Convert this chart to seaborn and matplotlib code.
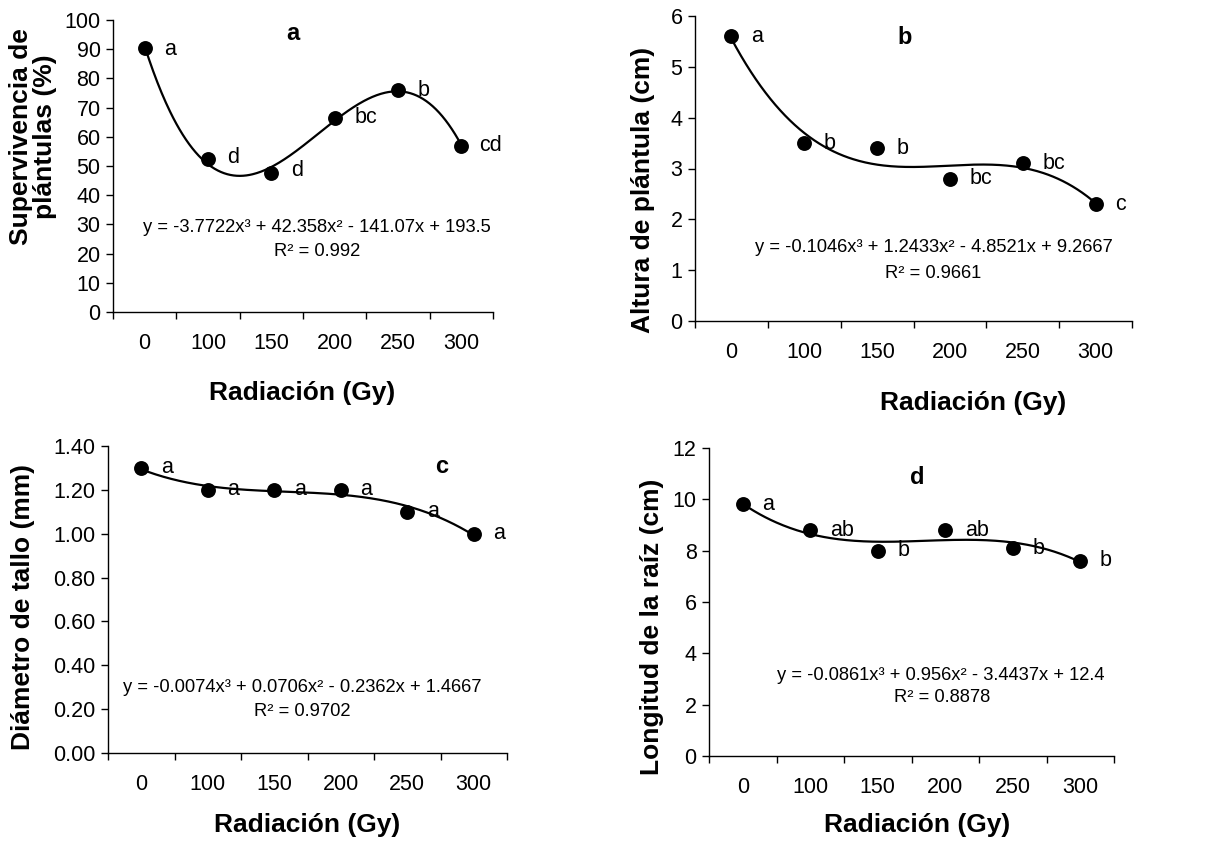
import numpy as np
import pandas as pd
import matplotlib
matplotlib.use("Agg")
import matplotlib.pyplot as plt
import seaborn as sns

# Radiation doses (categories on the x axis)
doses = ["0", "100", "150", "200", "250", "300"]

# Measured means per dose
survival = [90.5, 52.5, 47.5, 66.5, 76.0, 57.0]          # %
height = [5.6, 3.5, 3.4, 2.8, 3.1, 2.3]                   # cm
stem_diam = [1.30, 1.20, 1.20, 1.20, 1.10, 1.00]          # mm
root_len = [9.8, 8.8, 8.0, 8.8, 8.1, 7.6]                 # cm

# Mean-separation letters
letters_a = ["a", "d", "d", "bc", "b", "cd"]
letters_b = ["a", "b", "b", "bc", "bc", "c"]
letters_c = ["a", "a", "a", "a", "a", "a"]
letters_d = ["a", "ab", "b", "ab", "b", "b"]

# Cubic trend coefficients (x = category index 1..6) and R²
coef_a = [-3.7722, 42.358, -141.07, 193.5]
coef_b = [-0.1046, 1.2433, -4.8521, 9.2667]
coef_c = [-0.0074, 0.0706, -0.2362, 1.4667]
coef_d = [-0.0861, 0.956, -3.4437, 12.4]
r2_a, r2_b, r2_c, r2_d = "0.992", "0.9661", "0.9702", "0.8878"

sns.set_theme(style="white")
plt.rcParams["font.family"] = ["Liberation Sans", "DejaVu Sans"]
plt.rcParams.update({
    "text.color": "black",
    "axes.labelcolor": "black",
    "xtick.color": "black",
    "ytick.color": "black",
})

W, H = 1219, 842
fig = plt.figure(figsize=(W / 100, H / 100), dpi=100)

TICK_FS = 15.5
LETTER_FS = 15.5
EQ_FS = 13.2
LABEL_FS = 19
TAG_FS = 17


def rect(l, t, r, b):
    return [l / W, 1 - b / H, (r - l) / W, (b - t) / H]


def fx(px):
    return px / W


def fy(py):
    return 1 - py / H


def equation(coefs):
    a, b, c, d = coefs

    def term(v, suffix, first=False):
        if first:
            return f"{v:g}{suffix}"
        sign = "+" if v >= 0 else "-"
        return f" {sign} {abs(v):g}{suffix}"
    return "y = " + term(a, "x³", True) + term(b, "x²") + term(c, "x") + term(d, "")


def panel(box, values, letters, coefs, r2, ylim, yticks, yfmt, tag, tag_xy,
          eq_xy, r2_xy, ylabel, ylabel_xy, xlabel_xy, letter_offsets):
    ax = fig.add_axes(rect(*box))
    pos = np.arange(1, len(doses) + 1)
    df = pd.DataFrame({"pos": pos, "val": values})

    xs = np.linspace(1, len(doses), 300)
    ys = np.polyval(coefs, xs)
    sns.lineplot(x=xs, y=ys, ax=ax, color="black", linewidth=1.6, zorder=2)
    sns.scatterplot(data=df, x="pos", y="val", ax=ax, color="black", s=115,
                    edgecolor="black", linewidth=0, zorder=3)

    for p, v, lab, off in zip(pos, values, letters, letter_offsets):
        ax.annotate(lab, (p, v), xytext=off, textcoords="offset points",
                    ha="left", va="center", fontsize=LETTER_FS, color="black")

    ax.set_xlim(0.5, len(doses) + 0.5)
    ax.set_ylim(*ylim)
    ax.set_xticks(np.arange(0.5, len(doses) + 1, 1.0))
    ax.set_xticklabels([])
    ax.set_xticks(pos, minor=True)
    ax.set_xticklabels(doses, minor=True)
    ax.set_yticks(yticks)
    ax.set_yticklabels([yfmt.format(t) for t in yticks])
    ax.tick_params(axis="x", which="major", direction="out", length=5,
                   width=1, color="black", bottom=True)
    ax.tick_params(axis="x", which="minor", length=0, pad=15,
                   labelsize=TICK_FS, labelcolor="black")
    ax.tick_params(axis="y", direction="out", length=5, width=1,
                   color="black", left=True, pad=4, labelsize=TICK_FS,
                   labelcolor="black")
    for s in ["top", "right"]:
        ax.spines[s].set_visible(False)
    for s in ["left", "bottom"]:
        ax.spines[s].set_color("black")
        ax.spines[s].set_linewidth(1.0)
    ax.set_xlabel("")
    ax.set_ylabel("")
    ax.grid(False)

    fig.text(fx(tag_xy[0]), fy(tag_xy[1]), tag, fontsize=TAG_FS,
             fontweight="bold", ha="center", va="center")
    fig.text(fx(eq_xy[0]), fy(eq_xy[1]), equation(coefs), fontsize=EQ_FS,
             ha="center", va="center")
    fig.text(fx(r2_xy[0]), fy(r2_xy[1]), f"R² = {r2}", fontsize=EQ_FS,
             ha="center", va="center")
    fig.text(fx(ylabel_xy[0]), fy(ylabel_xy[1]), ylabel, fontsize=LABEL_FS,
             fontweight="bold", rotation=90, ha="center", va="center",
             multialignment="center", linespacing=0.95)
    fig.text(fx(xlabel_xy[0]), fy(xlabel_xy[1]), "Radiación (Gy)",
             fontsize=LABEL_FS, fontweight="bold", ha="center", va="center")
    return ax


offs_a = [(14, -1), (14, 1), (14, 2), (14, 0), (14, 0), (13, 0)]
offs_b = [(14, 0), (14, 0), (14, 0), (14, 0), (14, 0), (14, 0)]
offs_c = [(14, 0), (14, 0), (14, 0), (14, 0), (14, 0), (14, 0)]
offs_d = [(14, 0), (14, 0), (14, 0), (14, 0), (14, 0), (14, 0)]

panel((113, 20, 493, 312), survival, letters_a, coef_a, r2_a, (0, 100),
      np.arange(0, 101, 10), "{:.0f}", "a", (293, 33), (317, 228), (317, 252),
      "Supervivencia de\nplántulas (%)", (33, 137), (302, 393), offs_a)

panel((695, 16, 1132, 321), height, letters_b, coef_b, r2_b, (0, 6),
      np.arange(0, 7, 1), "{:.0f}", "b", (905, 37), (934, 248), (933, 273),
      "Altura de plántula (cm)", (643, 190), (973, 403), offs_b)

panel((108, 446, 507, 753), stem_diam, letters_c, coef_c, r2_c, (0, 1.4),
      np.arange(0, 1.41, 0.2), "{:.2f}", "c", (442, 467), (302, 688), (302, 711),
      "Diámetro de tallo (mm)", (23, 607), (307, 825), offs_c)

panel((709, 448, 1114, 756), root_len, letters_d, coef_d, r2_d, (0, 12),
      np.arange(0, 13, 2), "{:.0f}", "d", (917, 477), (941, 675), (942, 697),
      "Longitud de la raíz (cm)", (652, 627), (917, 825), offs_d)

fig.savefig("out.png", dpi=100, facecolor="white")
